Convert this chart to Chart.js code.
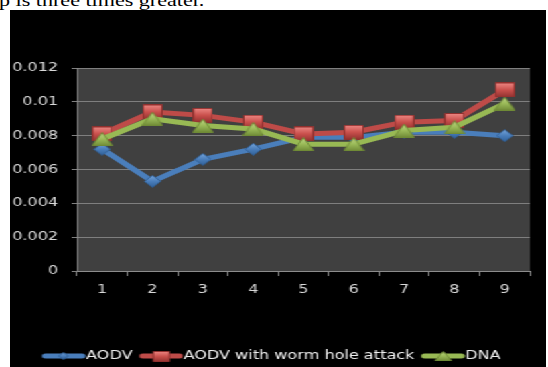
<!DOCTYPE html>
<html>
<head>
<meta charset="utf-8">
<script src="https://cdn.jsdelivr.net/npm/chart.js@4"></script>
<style>
  html, body { margin: 0; padding: 0; background: #fff; width: 548px; height: 367px; overflow: hidden; position: relative; }
  #caption { position: absolute; left: -1px; top: -7px; font: 16px/16px "Liberation Serif", "Times New Roman", serif; color: #000;
             white-space: nowrap; transform: scaleX(1.38); transform-origin: 0 0; }
  #wrap { position: absolute; left: 10px; top: 10px; width: 400px; height: 357px; background: #000;
          transform: scaleX(1.34); transform-origin: 0 0; }
  canvas { display: block; }
</style>
</head>
<body>
<div id="caption">p is three times greater.</div>
<div id="wrap"><canvas id="chart" width="400" height="357"></canvas></div>
<script>
// Categories on the x axis
const categories = ['1', '2', '3', '4', '5', '6', '7', '8', '9'];

// Series values
const aodv     = [0.0072, 0.0053, 0.0066, 0.0072, 0.0079, 0.0079, 0.0082, 0.0082, 0.0080];
const wormhole = [0.0081, 0.0094, 0.0092, 0.0088, 0.0081, 0.0082, 0.0088, 0.0089, 0.0107];
const dna      = [0.0078, 0.0090, 0.0086, 0.0084, 0.0075, 0.0075, 0.0083, 0.0085, 0.0099];

// Y axis ticks and their labels
const yTickValues = [0, 0.002, 0.004, 0.006, 0.008, 0.01, 0.012];
const yTickLabels = ['0', '0.002', '0.004', '0.006', '0.008', '0.01', '0.012'];

const seriesNames = ['AODV', 'AODV with worm hole attack', 'DNA'];

// Marker palette: line colour, base fill, light top, dark bottom / outline
const palette = [
  { line: '#4a7ebb', base: '#4a7ebb', light: '#7aa7dc', dark: '#2f5f96' },
  { line: '#be4b48', base: '#c9504c', light: '#ef8a86', dark: '#8f302e' },
  { line: '#98b954', base: '#9bbb59', light: '#c4dc8c', dark: '#6f8a36' }
];

// Bevelled marker drawn into a small canvas
function makeMarker(shape, w, h, col) {
  const c = document.createElement('canvas');
  c.width = w; c.height = h;
  const g = c.getContext('2d');
  g.beginPath();
  if (shape === 'rect') {
    g.rect(0.5, 0.5, w - 1, h - 1);
  } else if (shape === 'diamond') {
    g.moveTo(w / 2, 0.5); g.lineTo(w - 0.5, h / 2); g.lineTo(w / 2, h - 0.5); g.lineTo(0.5, h / 2); g.closePath();
  } else {
    g.moveTo(w / 2, 0.5); g.lineTo(w - 0.5, h - 0.5); g.lineTo(0.5, h - 0.5); g.closePath();
  }
  const grad = g.createLinearGradient(0, 0, 0, h);
  grad.addColorStop(0, col.light);
  grad.addColorStop(0.5, col.base);
  grad.addColorStop(1, col.dark);
  g.fillStyle = grad;
  g.fill();
  g.strokeStyle = col.dark;
  g.lineWidth = 1;
  g.stroke();
  return c;
}

const pointMarkers = [
  makeMarker('diamond', 13, 13, palette[0]),
  makeMarker('rect', 15, 15, palette[1]),
  makeMarker('triangle', 16, 14, palette[2])
];

// Legend swatch: line segment with a small marker in the middle.
// The icon is wider than the legend box so the line runs up to the text.
const LEGEND_BOX = 27;
function makeLegendIcon(i, mark) {
  const c = document.createElement('canvas');
  c.width = LEGEND_BOX + 12; c.height = 14;
  const g = c.getContext('2d');
  g.strokeStyle = palette[i].line;
  g.lineWidth = 5;
  g.lineCap = 'round';
  g.beginPath();
  g.moveTo(8.5, 7); g.lineTo(LEGEND_BOX + 9, 7);
  g.stroke();
  const cx = (8.5 + LEGEND_BOX + 9) / 2;
  g.drawImage(mark, Math.round(cx - mark.width / 2), Math.round(7 - mark.height / 2));
  return c;
}
const legendIcons = [
  makeLegendIcon(0, makeMarker('diamond', 8, 8, palette[0])),
  makeLegendIcon(1, makeMarker('rect', 13, 11, palette[1])),
  makeLegendIcon(2, makeMarker('triangle', 13, 10, palette[2]))
];

// Dark plot area behind the series
const plotBackground = {
  id: 'plotBackground',
  beforeDraw(chart) {
    const { ctx, chartArea: a } = chart;
    ctx.save();
    ctx.fillStyle = '#404040';
    ctx.fillRect(a.left, a.top, a.right - a.left, a.bottom - a.top);
    ctx.restore();
  }
};

Chart.defaults.font.family = '"DejaVu Sans", Verdana, sans-serif';
Chart.defaults.font.size = 12;

const seriesData = [aodv, wormhole, dna];

new Chart(document.getElementById('chart'), {
  type: 'line',
  data: {
    labels: categories,
    datasets: seriesData.map((d, i) => ({
      label: seriesNames[i],
      data: d,
      order: 3 - i,
      borderColor: palette[i].line,
      backgroundColor: palette[i].line,
      borderWidth: 5,
      borderJoinStyle: 'round',
      borderCapStyle: 'round',
      tension: 0,
      pointStyle: pointMarkers[i],
      pointRadius: 7,
      fill: false
    }))
  },
  options: {
    responsive: false,
    animation: false,
    devicePixelRatio: 1,
    layout: { padding: { top: 58, left: 0, right: 10, bottom: -5 } },
    plugins: {
      tooltip: { enabled: false },
      legend: {
        position: 'bottom',
        labels: {
          usePointStyle: true,
          pointStyleWidth: LEGEND_BOX,
          padding: 5,
          color: '#f0f0f0',
          font: { size: 12 },
          generateLabels: chart => chart.data.datasets.map((ds, i) => ({
            text: ds.label,
            pointStyle: legendIcons[i],
            fillStyle: 'transparent',
            strokeStyle: 'transparent',
            lineWidth: 0,
            fontColor: '#f0f0f0',
            hidden: false,
            datasetIndex: i
          }))
        }
      }
    },
    scales: {
      x: {
        offset: true,
        grid: { offset: true, drawOnChartArea: false, tickLength: 5, color: '#8c8c8c' },
        border: { color: '#8c8c8c', width: 1 },
        ticks: { color: '#d9d9d9', padding: 7, maxRotation: 0 },
        afterFit: s => { s.height = 74; }
      },
      y: {
        min: 0,
        max: 0.012,
        afterBuildTicks: s => { s.ticks = yTickValues.map(v => ({ value: v })); },
        grid: { color: '#7f7f7f', lineWidth: 1, tickLength: 4 },
        border: { color: '#8c8c8c', width: 1 },
        ticks: { color: '#d9d9d9', padding: 10, callback: (v, i) => yTickLabels[i] },
        afterFit: s => { s.width = 50; }
      }
    }
  },
  plugins: [plotBackground]
});
</script>
</body>
</html>
